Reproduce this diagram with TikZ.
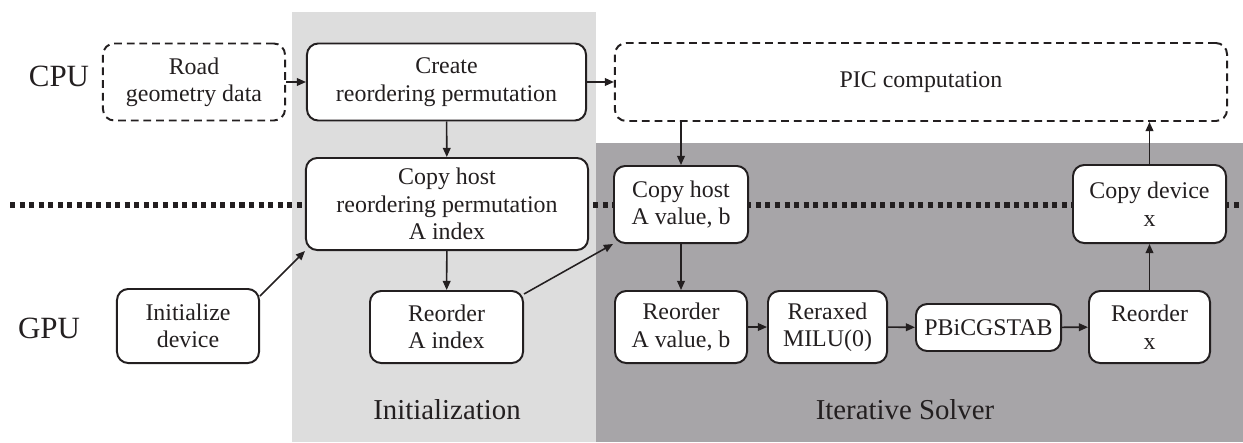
\documentclass[tikz,border=0pt]{standalone}
\usepackage{fontspec}
\setmainfont{Liberation Serif}
\usetikzlibrary{calc}
\usetikzlibrary{arrows.meta}

\definecolor{inkgray}{RGB}{35,31,32}
\definecolor{initgray}{RGB}{221,221,221}
\definecolor{solvegray}{RGB}{167,165,168}

\tikzset{
	box/.style={draw=inkgray, line width=1.4pt, rounded corners=8pt, fill=white, inner sep=0pt, align=center, text=inkgray, font=\fontsize{17}{19.5}\selectfont},
	dashbox/.style={box, dash pattern=on 5.5pt off 3.5pt},
	arr/.style={draw=inkgray, line width=1.1pt, -{Triangle[length=6.5pt,width=5.5pt]}},
	side/.style={text=inkgray, font=\fontsize{22}{24}\selectfont},
	phase/.style={text=inkgray, font=\fontsize{20.5}{24}\selectfont}
}

\begin{document}
\begin{tikzpicture}[x=0.025cm, y=-0.025cm]
	\useasboundingbox (0,0) rectangle (1243,442);
	
	\fill[initgray] (292,12) rectangle (596,442);
	\fill[solvegray] (596,143) rectangle (1243,442);
	\draw[inkgray, line width=3.6pt, dash pattern=on 3.6pt off 3.2pt] (10,205) -- (1243,205);
	
	\node[side] (cpu) at (59,76) {CPU};
	\node[side] (gpu) at (49,328) {GPU};
	\node[phase] (initlbl) at (447,410) {Initialization};
	\node[phase] (solvelbl) at (905,410) {Iterative Solver};
	
	\node[dashbox, minimum width=4.55cm, minimum height=1.925cm] (road) at (194,82) {Road\\geometry data};
	\node[box, minimum width=6.975cm, minimum height=1.925cm] (create) at (446.5,82) {Create\\reordering permutation};
	\node[dashbox, minimum width=15.3cm, minimum height=1.95cm] (pic) at (921,82) {PIC computation};
	\node[box, minimum width=7.05cm, minimum height=2.3cm] (cphost) at (447,204) {Copy host\\reordering permutation\\A index};
	\node[box, minimum width=3.55cm, minimum height=1.85cm] (init) at (188,326) {Initialize\\device};
	\node[box, minimum width=3.825cm, minimum height=1.8cm] (reidx) at (446.5,327) {Reorder\\A index};
	\node[box, minimum width=3.35cm, minimum height=1.925cm] (cpval) at (681,204.5) {Copy host\\A value, b};
	\node[box, minimum width=3.3cm, minimum height=1.8cm] (reval) at (681,327) {Reorder\\A value, b};
	\node[box, minimum width=2.975cm, minimum height=1.8cm] (milu) at (827.5,327) {Reraxed\\MILU(0)};
	\node[box, minimum width=3.625cm, minimum height=1.175cm] (bicg) at (988.5,327.5) {PBiCGSTAB};
	\node[box, minimum width=3.025cm, minimum height=1.8cm] (rex) at (1149.5,327) {Reorder\\x};
	\node[box, minimum width=3.825cm, minimum height=1.95cm] (cpdev) at (1149.5,204) {Copy device\\x};
	
	\draw[arr] (road) -- (create);
	\draw[arr] (create) -- (pic);
	\draw[arr] (create) -- (cphost);
	\draw[arr] (cphost) -- (reidx);
	\draw[arr] ($(init.north east)+(0,8)$) -- (cphost.south west);
	\draw[arr] ($(reidx.north east)+(0,4)$) -- (cpval.south west);
	\draw[arr] (pic.south -| cpval.north) -- (cpval.north);
	\draw[arr] (cpval) -- (reval);
	\draw[arr] (reval) -- (milu);
	\draw[arr] (milu) -- (bicg);
	\draw[arr] (bicg) -- (rex);
	\draw[arr] (rex) -- (cpdev);
	\draw[arr] (cpdev.north) -- (cpdev.north |- pic.south);
\end{tikzpicture}
\end{document}
